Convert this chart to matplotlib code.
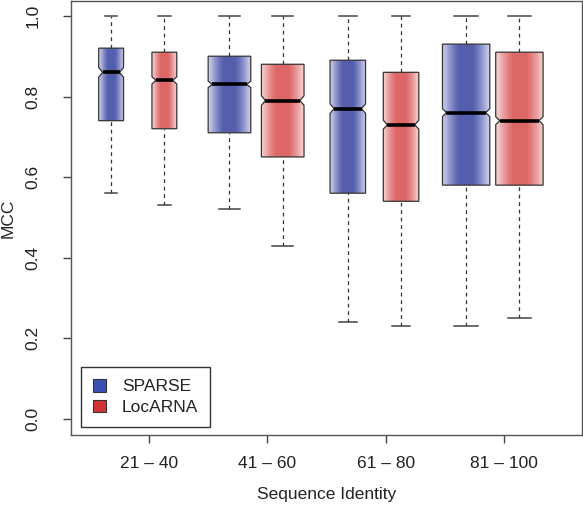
import numpy as np
import matplotlib
matplotlib.use("Agg")
import matplotlib.pyplot as plt
from matplotlib.patches import Polygon, Patch

# data
groups = ["21 – 40", "41 – 60", "61 – 80", "81 – 100"]

sparse_lo = [0.56, 0.52, 0.24, 0.23]
sparse_q1 = [0.74, 0.71, 0.56, 0.58]
sparse_med = [0.86, 0.83, 0.77, 0.76]
sparse_q3 = [0.92, 0.90, 0.89, 0.93]
sparse_hi = [1.0, 1.0, 1.0, 1.0]
sparse_notch = [0.012, 0.008, 0.012, 0.010]

locarna_lo = [0.53, 0.43, 0.23, 0.25]
locarna_q1 = [0.72, 0.65, 0.54, 0.58]
locarna_med = [0.84, 0.79, 0.73, 0.74]
locarna_q3 = [0.91, 0.88, 0.86, 0.91]
locarna_hi = [1.0, 1.0, 1.0, 1.0]
locarna_notch = [0.009, 0.012, 0.011, 0.010]

# layout
box_w = [0.21, 0.36, 0.30, 0.40]
offsets = [-0.32, 0.13]
indent = 0.034

blue_dark = np.array([84, 94, 172]) / 255
blue_light = np.array([212, 214, 242]) / 255
red_dark = np.array([221, 102, 102]) / 255
red_light = np.array([248, 216, 216]) / 255

plt.rcParams['font.family'] = ['Liberation Sans', 'DejaVu Sans']

fig = plt.figure(figsize=(5.83, 5.05), dpi=100)
ax = fig.add_axes([71/583, 1 - 435/505, 511/583, 434/505])


def gradient(dark, light, n=200):
    u = np.linspace(0, 1, n)
    t = np.abs(2*u - 1)
    m = np.clip((t - 0.25) / 0.75, 0, 1) ** 1.3
    img = dark[None, :] * (1 - m[:, None]) + light[None, :] * m[:, None]
    return img[None, :, :]


def draw_box(c, w, lo, q1, med, q3, hi, n, dark, light):
    h = w / 2
    verts = [(c-h, q1), (c+h, q1), (c+h, med-n), (c+h-indent, med),
             (c+h, med+n), (c+h, q3), (c-h, q3), (c-h, med+n),
             (c-h+indent, med), (c-h, med-n)]
    poly = Polygon(verts, closed=True, facecolor='none', edgecolor='#333333',
                   lw=0.9, zorder=3)
    ax.add_patch(poly)
    im = ax.imshow(gradient(dark, light), extent=[c-h, c+h, q1, q3],
                   aspect='auto', zorder=2, interpolation='nearest')
    im.set_clip_path(poly)
    # median
    ax.plot([c-h+indent, c+h-indent], [med, med], color='black', lw=2.6,
            zorder=4, solid_capstyle='butt')
    # whiskers
    ax.plot([c, c], [q3, hi], color='#333333', lw=0.9, ls=(0, (3, 3)), zorder=1)
    ax.plot([c, c], [lo, q1], color='#333333', lw=0.9, ls=(0, (3, 3)), zorder=1)
    ax.plot([c-w/4, c+w/4], [hi, hi], color='#444444', lw=1.1, zorder=1)
    ax.plot([c-w/4, c+w/4], [lo, lo], color='#444444', lw=1.1, zorder=1)


for i in range(len(groups)):
    x = i + 1
    draw_box(x + offsets[0], box_w[i], sparse_lo[i], sparse_q1[i], sparse_med[i],
             sparse_q3[i], sparse_hi[i], sparse_notch[i], blue_dark, blue_light)
    draw_box(x + offsets[1], box_w[i], locarna_lo[i], locarna_q1[i], locarna_med[i],
             locarna_q3[i], locarna_hi[i], locarna_notch[i], red_dark, red_light)

ax.set_xlim(0.341, 4.659)
ax.set_ylim(-0.04, 1.037)

ax.set_xticks(range(1, len(groups) + 1))
ax.set_xticklabels(groups)
ax.set_yticks([0.0, 0.2, 0.4, 0.6, 0.8, 1.0])
ax.set_yticklabels(["0.0", "0.2", "0.4", "0.6", "0.8", "1.0"], rotation=90, va='center')
ax.tick_params(axis='both', direction='out', length=5.8, width=1.0,
               color='#444444', labelsize=12.5, labelcolor='#222222')
ax.tick_params(axis='x', pad=9)
ax.tick_params(axis='y', pad=16)
for s in ax.spines.values():
    s.set_color('#555555')
    s.set_linewidth(1.0)

ax.set_xlabel("Sequence Identity", fontsize=12.5, color='#222222', labelpad=12)
ax.set_ylabel("MCC", fontsize=12.5, color='#222222', labelpad=7)

handles = [Patch(facecolor='#3c50b4', edgecolor='#333333', lw=0.8, label='SPARSE'),
           Patch(facecolor='#d03434', edgecolor='#333333', lw=0.8, label='LocARNA')]
leg = ax.legend(handles=handles, loc='lower left', bbox_to_anchor=(0.0196, 0.018),
                borderaxespad=0, fancybox=False, framealpha=1, edgecolor='#333333',
                fontsize=12.5, handlelength=0.75, handleheight=0.75, handletextpad=0.9,
                borderpad=0.7, labelspacing=0.3)
leg.get_frame().set_linewidth(1.0)
for t in leg.get_texts():
    t.set_color('#222222')

fig.savefig("out.png", dpi=100)
